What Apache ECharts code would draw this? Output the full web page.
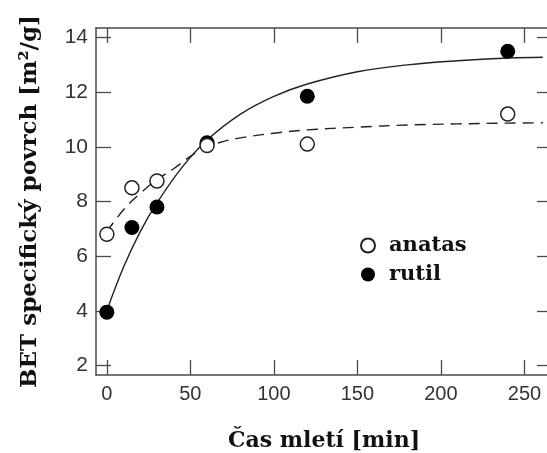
<!DOCTYPE html>
<html>
<head>
<meta charset="utf-8">
<script src="https://cdn.jsdelivr.net/npm/echarts@6/dist/echarts.min.js"></script>
<style>
html,body{margin:0;padding:0;background:#fff;}
#c{width:547px;height:453px;}
</style>
</head>
<body>
<div id="c"></div>
<script>
// ---- data ----
const times = [0, 15, 30, 60, 120, 240];
const anatas = [6.8, 8.5, 8.75, 10.05, 10.1, 11.2];
const rutil = [3.95, 7.05, 7.8, 10.15, 11.85, 13.5];
// fitted curves [time, value]
const rutilFitT = [0, 10, 20, 30, 45, 60, 80, 100, 120, 150, 180, 210, 240, 261];
const rutilFitV = [4.0, 5.6, 6.9, 7.95, 9.25, 10.25, 11.2, 11.85, 12.3, 12.75, 13.0, 13.15, 13.25, 13.28];
const anatasFitT = [0, 10, 20, 30, 40, 50, 60, 70, 80, 100, 120, 150, 180, 210, 240, 261];
const anatasFitV = [6.9, 7.7, 8.3, 8.8, 9.2, 9.65, 10.0, 10.2, 10.33, 10.5, 10.62, 10.72, 10.8, 10.84, 10.87, 10.88];
const xTicks = [0, 50, 100, 150, 200, 250];
const yTicks = [2, 4, 6, 8, 10, 12, 14];
const xTitle = 'Čas mletí [min]';
const yTitle = 'BET specifický povrch [m²/g]';

const zip = (a, b) => a.map((v, i) => [v, b[i]]);

const axisCol = '#4a4a4a';
const xMin = -6.5, xMax = 266.5, yMin = 1.65, yMax = 14.35;
const serif = '"DejaVu Serif", "Liberation Serif", serif';
const sans = '"Liberation Sans", Arial, sans-serif';

function xAx(pos, main) {
  return {
    type: 'value', position: pos, min: xMin, max: xMax,
    splitLine: {show: false},
    axisLine: {show: true, onZero: false, lineStyle: {color: axisCol, width: 1.5}},
    axisTick: {show: true, inside: true, length: 15, customValues: xTicks, lineStyle: {color: axisCol, width: 1.3}},
    axisLabel: main ? {show: true, customValues: xTicks, margin: 9, color: '#333', fontFamily: sans, fontSize: 20} : {show: false},
    name: main ? xTitle : '', nameLocation: 'middle', nameGap: 55,
    nameTextStyle: {fontFamily: serif, fontWeight: 'bold', fontSize: 22, color: '#111'}
  };
}
function yAx(pos, main) {
  return {
    type: 'value', position: pos, min: yMin, max: yMax,
    splitLine: {show: false},
    axisLine: {show: true, onZero: false, lineStyle: {color: axisCol, width: 1.5}},
    axisTick: {show: true, inside: true, length: 15, customValues: yTicks, lineStyle: {color: axisCol, width: 1.3}},
    axisLabel: main ? {show: true, customValues: yTicks, margin: 8, color: '#333', fontFamily: sans, fontSize: 21} : {show: false},
    name: main ? yTitle : '', nameLocation: 'middle', nameGap: 54, nameRotate: 90,
    nameTextStyle: {fontFamily: serif, fontWeight: 'bold', fontSize: 23, color: '#111'}
  };
}

const chart = echarts.init(document.getElementById('c'), null, {renderer: 'canvas'});
chart.setOption({
  animation: false,
  backgroundColor: '#fff',
  grid: {left: 96, top: 28, width: 456, height: 347, containLabel: false, outerBoundsMode: 'none'},
  xAxis: [xAx('bottom', true), xAx('top', false)],
  yAxis: [yAx('left', true), yAx('right', false)],
  legend: {
    data: ['anatas', 'rutil'],
    orient: 'vertical', left: 355, top: 230,
    itemWidth: 14, itemHeight: 14, itemGap: 8,
    textStyle: {fontFamily: serif, fontWeight: 'bold', fontSize: 21, color: '#111', padding: [0, 0, 0, 9]}
  },
  series: [
    {
      name: 'fitR', type: 'line', data: zip(rutilFitT, rutilFitV), smooth: 0.4,
      showSymbol: false, silent: true, z: 1,
      lineStyle: {color: '#222', width: 1.4}
    },
    {
      name: 'fitA', type: 'line', data: zip(anatasFitT, anatasFitV), smooth: 0.4,
      showSymbol: false, silent: true, z: 1,
      lineStyle: {color: '#222', width: 1.4, type: [11, 7]}
    },
    {
      name: 'rutil', type: 'scatter', data: zip(times, rutil), symbol: 'circle', symbolSize: 15, z: 3,
      itemStyle: {color: '#000', borderColor: '#000', borderWidth: 0, opacity: 1}
    },
    {
      name: 'anatas', type: 'scatter', data: zip(times, anatas), symbol: 'circle', symbolSize: 14, z: 4,
      itemStyle: {color: '#fff', borderColor: '#222', borderWidth: 1.5, opacity: 1}
    }
  ]
});
</script>
</body>
</html>
